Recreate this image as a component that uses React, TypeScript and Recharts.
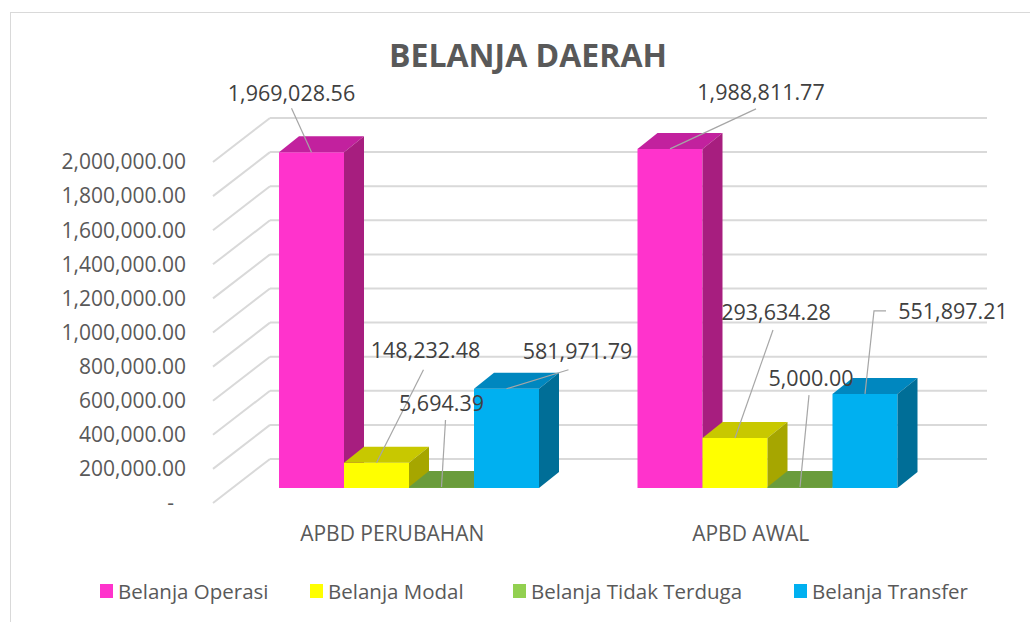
import React from 'react';
import { BarChart, Bar, XAxis, YAxis, CartesianGrid, LabelList, Legend } from 'recharts';

// ---- data ----
const categories = ['APBD PERUBAHAN', 'APBD AWAL'];
const belanjaOperasi = [1969028.56, 1988811.77];
const belanjaModal = [148232.48, 293634.28];
const belanjaTidakTerduga = [5694.39, 5000.0];
const belanjaTransfer = [581971.79, 551897.21];
const yTicks = [0, 200000, 400000, 600000, 800000, 1000000, 1200000, 1400000, 1600000, 1800000, 2000000];
const seriesOrder = ['Belanja Operasi', 'Belanja Modal', 'Belanja Tidak Terduga', 'Belanja Transfer'];

const data = categories.map((c, i) => ({
  name: c,
  operasi: belanjaOperasi[i],
  modal: belanjaModal[i],
  tidak: belanjaTidakTerduga[i],
  transfer: belanjaTransfer[i],
}));

// ---- 3D look ----
const DEPTH_X = 57; // floor depth (perspective of grid)
const DEPTH_Y = -44;
const SHIFT_X = 17; // bar front face placement inside depth
const SHIFT_Y = -15;
const BAR_DX = 20; // bar depth
const BAR_DY = -16;

const palette: Record<string, { front: string; top: string; side: string; legend: string }> = {
  operasi: { front: '#FF33CC', top: '#C2219E', side: '#A71E7F', legend: '#FF33CC' },
  modal: { front: '#FFFF00', top: '#C8C800', side: '#A6A600', legend: '#FFFF00' },
  tidak: { front: '#6FA23F', top: '#6A9C3B', side: '#527A2D', legend: '#92D050' },
  transfer: { front: '#00B0F0', top: '#0087BF', side: '#006E97', legend: '#00B0F0' },
};

// label placement (offsets from the bar's front-top centre)
const labelLayout: Record<string, any[]> = {
  operasi: [
    { tx: -20, ty: -59, lx: -20, ly: -44 },
    { tx: 91, ty: -56, lx: 86, ly: -40 },
  ],
  modal: [
    { tx: 49, ty: -112, lx: 47, ly: -93 },
    { tx: 41, ty: -125, lx: 38, ly: -108 },
  ],
  tidak: [
    { tx: 0, ty: -84, lx: 4, ly: -67 },
    { tx: 11, ty: -109, lx: 9, ly: -92 },
  ],
  transfer: [
    { tx: 71, ty: -37, lx: 62, ly: -19 },
    { tx: 88, ty: -82, lx: 21, ly: -83, ex: 9, ey: -83 },
  ],
};

const fmt = (v: number) =>
  v.toLocaleString('en-US', { minimumFractionDigits: 2, maximumFractionDigits: 2 });

const make3DBar = (key: string) => (props: any) => {
  const { x, y, width, height } = props;
  const c = palette[key];
  const h = Math.max(height, 1);
  const fx = x + SHIFT_X;
  const fy = y + SHIFT_Y + (height - h);
  const b = fy + h;
  const top = `M${fx},${fy} L${fx + BAR_DX},${fy + BAR_DY} L${fx + width + BAR_DX},${fy + BAR_DY} L${fx + width},${fy} Z`;
  const side = `M${fx + width},${fy} L${fx + width + BAR_DX},${fy + BAR_DY} L${fx + width + BAR_DX},${b + BAR_DY} L${fx + width},${b} Z`;
  return (
    <g>
      <rect x={fx} y={fy} width={width} height={h} fill={c.front} />
      <path d={top} fill={c.top} />
      <path d={side} fill={c.side} />
    </g>
  );
};

const makeLabel = (key: string) => (props: any) => {
  const { x, y, width, value, index } = props;
  const l = labelLayout[key][index];
  if (!l) return null;
  const ax = x + width / 2 + SHIFT_X;
  const ay = y + SHIFT_Y;
  const pts = [[ax, ay]];
  if (l.ex !== undefined) pts.push([ax + l.ex, ay + l.ey]);
  pts.push([ax + l.lx, ay + l.ly]);
  return (
    <g>
      <polyline points={pts.map((p) => p.join(',')).join(' ')} fill="none" stroke="#A6A6A6" strokeWidth={1.2} />
      <text x={ax + l.tx} y={ay + l.ty} dy="0.35em" textAnchor="middle" fontSize={21.5} fill="#404040" fontFamily="Open Sans">
        {fmt(Number(value))}
      </text>
    </g>
  );
};

const gridLine = (props: any) => {
  const { x1, x2, y1, index } = props;
  return (
    <g key={`g-${index}-${y1}`}>
      <line x1={x1} y1={y1} x2={x1 + DEPTH_X} y2={y1 + DEPTH_Y} stroke="#D9D9D9" strokeWidth={2} />
      <line x1={x1 + DEPTH_X} y1={y1 + DEPTH_Y} x2={x2 + DEPTH_X} y2={y1 + DEPTH_Y} stroke="#D9D9D9" strokeWidth={2} />
    </g>
  );
};

const YTick = (props: any) => {
  const { x, y, payload } = props;
  const v = payload.value;
  return (
    <text x={v === 0 ? x - 12 : x} y={y} dy="0.35em" textAnchor="end" fontSize={21} fill="#595959" fontFamily="Open Sans">
      {v === 0 ? '-' : fmt(v)}
    </text>
  );
};

const legendLeft = [100, 310, 513, 794];

const LegendContent = (props: any) => {
  const payload = [...(props.payload || [])].sort(
    (a: any, b: any) => seriesOrder.indexOf(a.value) - seriesOrder.indexOf(b.value)
  );
  return (
    <div style={{ position: 'relative', width: 1030, height: 30 }}>
      {payload.map((p: any, i: number) => (
        <div
          key={p.value}
          style={{
            position: 'absolute',
            left: legendLeft[i],
            top: 0,
            display: 'flex',
            alignItems: 'center',
            fontFamily: 'Open Sans',
            fontSize: 20.5,
            color: '#595959',
            whiteSpace: 'nowrap',
            lineHeight: '30px',
          }}
        >
          <span style={{ display: 'inline-block', width: 13, height: 14, background: p.color, marginRight: 5 }} />
          {p.value}
        </div>
      ))}
    </div>
  );
};

export default function App() {
  return (
    <div style={{ position: 'fixed', left: 0, top: 0, width: 1030, height: 622, background: '#fff', overflow: 'hidden' }}>
      <div style={{ position: 'absolute', left: 10, top: 12, width: 1100, height: 700, border: '1px solid #D9D9D9' }} />
      <div
        style={{
          position: 'absolute',
          left: 0,
          top: 35,
          width: 1056,
          textAlign: 'center',
          fontFamily: 'Open Sans',
          fontWeight: 700,
          fontSize: 32,
          lineHeight: '40px',
          color: '#595959',
        }}
      >
        BELANJA DAERAH
      </div>
      <div style={{ position: 'absolute', left: 0, top: 0 }}>
        <BarChart
          width={1030}
          height={622}
          data={data}
          margin={{ top: 162, right: 100, bottom: 59, left: 13 }}
          barCategoryGap={49}
          barGap={0}
        >
          <CartesianGrid vertical={false} horizontal={gridLine} />
          <XAxis
            dataKey="name"
            axisLine={false}
            tickLine={false}
            tickSize={0}
            tickMargin={23}
            height={60}
            tick={{ fill: '#595959', fontSize: 21, fontFamily: 'Open Sans' }}
          />
          <YAxis
            width={200}
            domain={[0, 2000000]}
            ticks={yTicks}
            axisLine={false}
            tickLine={false}
            tickSize={0}
            tickMargin={27}
            tick={<YTick />}
          />
          <Legend
            layout="horizontal"
            verticalAlign="middle"
            align="center"
            wrapperStyle={{ top: 576, left: 0, width: 1030 }}
            content={<LegendContent />}
          />
          <Bar dataKey="operasi" name="Belanja Operasi" fill={palette.operasi.legend} shape={make3DBar('operasi')} isAnimationActive={false}>
            <LabelList dataKey="operasi" content={makeLabel('operasi')} />
          </Bar>
          <Bar dataKey="modal" name="Belanja Modal" fill={palette.modal.legend} shape={make3DBar('modal')} isAnimationActive={false}>
            <LabelList dataKey="modal" content={makeLabel('modal')} />
          </Bar>
          <Bar dataKey="tidak" name="Belanja Tidak Terduga" fill={palette.tidak.legend} shape={make3DBar('tidak')} isAnimationActive={false}>
            <LabelList dataKey="tidak" content={makeLabel('tidak')} />
          </Bar>
          <Bar dataKey="transfer" name="Belanja Transfer" fill={palette.transfer.legend} shape={make3DBar('transfer')} isAnimationActive={false}>
            <LabelList dataKey="transfer" content={makeLabel('transfer')} />
          </Bar>
        </BarChart>
      </div>
    </div>
  );
}
